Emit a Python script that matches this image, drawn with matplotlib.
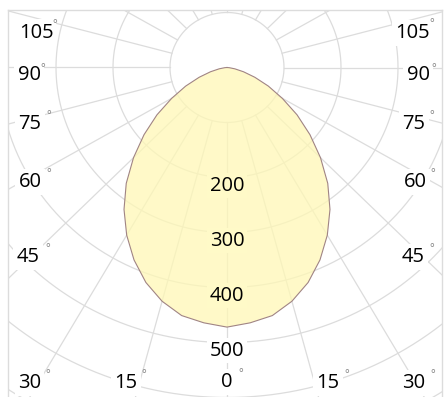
import numpy as np
import matplotlib
matplotlib.use("Agg")
import matplotlib.pyplot as plt

plt.rcParams['font.family'] = ['Open Sans', 'DejaVu Sans']

# luminous intensity (cd) every 5 deg from nadir, same on both sides
angles = [0, 5, 10, 15, 20, 25, 30, 35, 40, 45, 50, 55, 60, 65, 70, 75, 80, 85, 90]
intensity = [472, 466, 458, 440, 416, 386, 352, 315, 275, 232, 190, 150, 112, 80, 52, 30, 14, 4, 0]

rings = [100, 200, 300, 400, 500, 600, 700]
ring_labels = [200, 300, 400, 500]
spoke_step = 15

angle_text = ['105', '90', '75', '60', '45', '30', '15', '0',
              '15', '30', '45', '60', '75', '90', '105']

W, H = 444, 397
fig = plt.figure(figsize=(W / 100, H / 100), dpi=100)

# axes box in pixel terms: left 8, top 10, right 442, bottom just off the image
ax = fig.add_axes([8 / W, -2 / H, (442 - 8) / W, (399 - 10) / H])
cx, cy, sx, sy = 227, 67.5, 0.57, 0.55
ax.set_xlim((8 - cx) / sx, (442 - cx) / sx)
ax.set_ylim((cy - 399) / sy, (cy - 10) / sy)
ax.set_aspect('auto')
ax.set_xticks([])
ax.set_yticks([])
for s in ax.spines.values():
    s.set_color('#dcdcdc')
    s.set_linewidth(1)

grid = '#dcdcdc'
t = np.radians(np.linspace(0, 360, 721))
for r in rings:
    ax.plot(r * np.sin(t), -r * np.cos(t), color=grid, lw=0.9, zorder=1)
for a in np.radians(np.arange(0, 360, spoke_step)):
    ax.plot([100 * np.sin(a), 900 * np.sin(a)], [-100 * np.cos(a), -900 * np.cos(a)],
            color=grid, lw=0.9, zorder=1)

# mirror the half curve to get the full distribution
th = np.radians(np.concatenate([-np.array(angles[::-1]), angles[1:]]))
rr = np.concatenate([intensity[::-1], intensity[1:]])
xs = rr * np.sin(th)
ys = -rr * np.cos(th)
ax.fill(xs, ys, color='#fff8b6', alpha=0.75, lw=0, zorder=2)
ax.plot(np.append(xs, xs[0]), np.append(ys, ys[0]), color='#a08484', lw=0.8, zorder=3)

fill_bg = '#fffac8'
for v in ring_labels:
    fc = fill_bg if v < max(intensity) else 'white'
    ax.text(0, -(v + 15), str(v), ha='center', va='center', fontsize=14.5,
            color='black', zorder=5,
            bbox=dict(boxstyle='square,pad=0.12', fc=fc, ec='none'))

# angle labels sit along the frame edges
num_pos = [(36, 32.5), (29, 75), (30, 124), (30, 182), (28, 257), (29.5, 383),
           (126, 383), (227, 382), (328, 383), (414, 383), (413, 257),
           (415.5, 182), (414, 124), (418, 75), (412, 33)]
deg_pos = [(55, 25), (43, 69), (49, 116), (49, 174), (48, 249), (48, 375),
           (144, 375), (241, 374), (347, 375), (433, 375), (432, 249),
           (433, 174), (432, 116), (434, 69), (432, 24)]

for s, (px, py), (dx, dy) in zip(angle_text, num_pos, deg_pos):
    fig.text(px / W, 1 - py / H, s, ha='center', va='center', fontsize=14.5,
             color='black', zorder=5,
             bbox=dict(boxstyle='square,pad=0.15', fc='white', ec='none'))
    fig.text(dx / W, 1 - dy / H, '°', ha='center', va='center', fontsize=8,
             color='#777777', zorder=5)

fig.savefig('out.png', dpi=100)
